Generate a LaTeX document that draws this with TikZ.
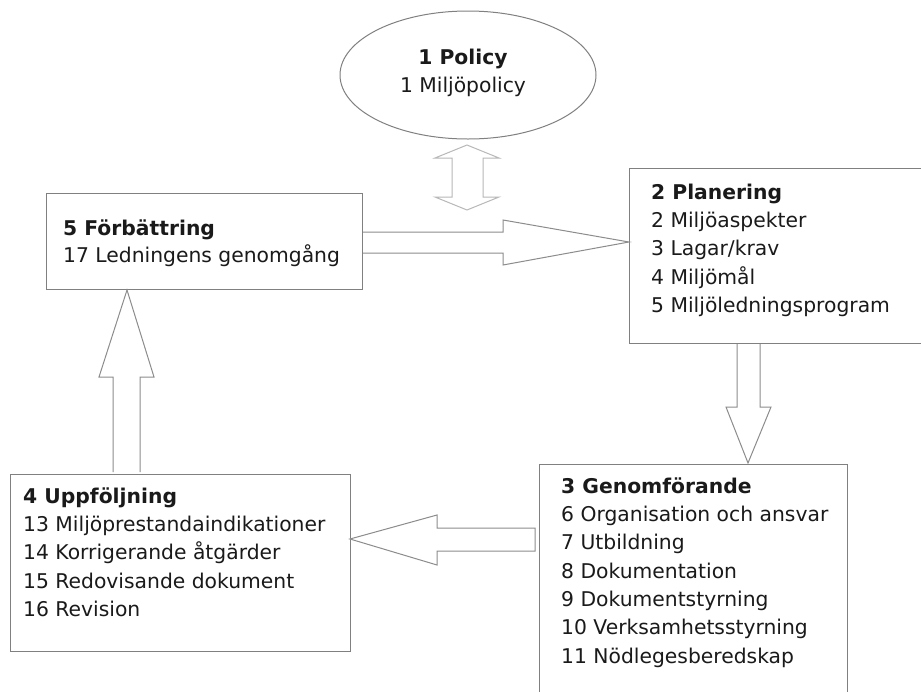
\documentclass[tikz,border=0pt]{standalone}
\usepackage{fontspec}
\setmainfont{DejaVu Sans}
\usetikzlibrary{shapes.geometric}
\definecolor{boxline}{HTML}{808080}
\definecolor{arrline}{HTML}{8C8C8C}
\definecolor{lightarr}{HTML}{B8B8B8}
\definecolor{txt}{HTML}{1A1A1A}
\tikzset{
  box/.style={draw=boxline, line width=1.1pt, rectangle, inner sep=0pt, anchor=north west},
  boxtext/.style={anchor=north west, inner sep=0pt, align=left, text=txt,
    font=\fontsize{20.3}{28.3}\selectfont},
  blockarrow/.style={draw=arrline, line width=1pt, fill=white, line join=miter},
  lightblock/.style={draw=lightarr, line width=1pt, fill=white},
}
\newcommand{\fl}{\rule{0pt}{16pt}}
\begin{document}
\begin{tikzpicture}[x=1pt,y=-1pt]
\useasboundingbox (0,0) rectangle (921,691);
\fill[white] (0,0) rectangle (921,691);
\begin{scope}
\clip (0,0) rectangle (921,691);
% boxes
\node[ellipse, draw=boxline, line width=1pt, minimum width=256pt, minimum height=128pt, inner sep=0pt] (pol) at (468,75) {};
\node[box, minimum width=316pt, minimum height=96pt] (b5) at (46,193) {};
\node[box, minimum width=320pt, minimum height=175pt] (b2) at (629,168) {};
\node[box, minimum width=308pt, minimum height=260pt] (b3) at (539,464) {};
\node[box, minimum width=340pt, minimum height=177pt] (b4) at (10,474) {};
% arrows
\draw[lightblock] (467,145) -- (499,158) -- (483,158) -- (483,197) -- (499,197) -- (467,210)
  -- (435,197) -- (452,197) -- (452,158) -- (435,158) -- cycle;
\draw[blockarrow] (363,232) -- (503,232) -- (503,220) -- (629,242) -- (503,265) -- (503,253) -- (363,253);
\draw[blockarrow] (737,344) -- (737,407) -- (726,407) -- (748,463) -- (771,407) -- (760,407) -- (760,344);
\draw[blockarrow] (535,528) -- (437,528) -- (437,515) -- (350,539) -- (437,565) -- (437,551) -- (535,551) -- cycle;
\draw[blockarrow] (113,472) -- (113,377) -- (99,377) -- (127,290) -- (154,377) -- (140,377) -- (140,472);
% texts
\node[boxtext, anchor=north, align=center] (tpol) at (463,48)
  {\fl\textbf{1 Policy}\\1 Miljöpolicy};
\node[boxtext, font=\fontsize{20.3}{27}\selectfont] (t5) at (63,219)
  {\fl\textbf{5 Förbättring}\\17 Ledningens genomgång};
\node[boxtext] (t2) at (651,183)
  {\fl\textbf{2 Planering}\\2 Miljöaspekter\\3 Lagar/krav\\4 Miljömål\\5 Miljöledningsprogram};
\node[boxtext] (t3) at (561,477)
  {\fl\textbf{3 Genomförande}\\6 Organisation och ansvar\\7 Utbildning\\8 Dokumentation\\9 Dokumentstyrning\\10 Verksamhetsstyrning\\11 Nödlegesberedskap};
\node[boxtext] (t4) at (23,487)
  {\fl\textbf{4 Uppföljning}\\13 Miljöprestandaindikationer\\14 Korrigerande åtgärder\\15 Redovisande dokument\\16 Revision};
\end{scope}
\end{tikzpicture}
\end{document}
